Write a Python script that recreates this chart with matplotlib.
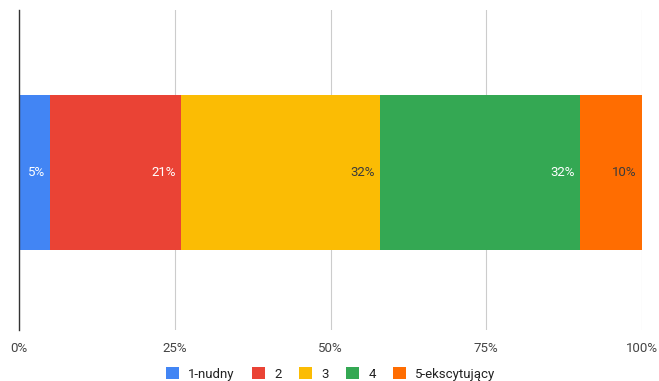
import matplotlib.pyplot as plt
from matplotlib.patches import Patch

categories = ['1-nudny', '2', '3', '4', '5-ekscytujący']
shares = [5, 21, 32, 32, 10]
colors = ['#4285F4', '#EA4335', '#FBBC04', '#34A853', '#FF6D01']
label_colors = ['white', 'white', '#3b3b3b', 'white', '#3b3b3b']
tick_values = [0, 25, 50, 75, 100]
tick_labels = ['0%', '25%', '50%', '75%', '100%']

plt.rcParams['font.family'] = ['Roboto', 'DejaVu Sans']

fig = plt.figure(figsize=(6.59, 3.81), dpi=100)
ax = fig.add_axes([19 / 659, 1 - 330 / 381, 623 / 659, 320 / 381])

left = 0
for name, val, col, tcol in zip(categories, shares, colors, label_colors):
    ax.barh(-0.008, val, left=left, height=0.485, color=col, zorder=2)
    ax.text(left + val - 0.8, -0.008, f'{val}%', ha='right', va='center',
            fontsize=9.5, color=tcol, zorder=3)
    left += val

ax.set_xlim(0, 100)
ax.set_ylim(-0.5, 0.5)
ax.set_yticks([])
ax.set_xticks(tick_values)
ax.set_xticklabels(tick_labels, fontsize=9.5, color='#444444')
ax.tick_params(axis='x', length=0, pad=9)
ax.grid(axis='x', color='#cccccc', linewidth=0.8, zorder=0)
for side in ['top', 'right', 'bottom']:
    ax.spines[side].set_visible(False)
ax.spines['left'].set_color('#333333')
ax.spines['left'].set_linewidth(1)
ax.spines['left'].set_zorder(4)

handles = [Patch(facecolor=c, edgecolor='none') for c in colors]
fig.legend(handles, categories, loc='lower center', ncol=5, frameon=False,
           fontsize=9.5, handlelength=1.0, handleheight=1.0, handletextpad=0.7,
           columnspacing=1.3, bbox_to_anchor=(0.502, -0.03),
           labelcolor='#222222')

fig.savefig('out.png', dpi=100)
